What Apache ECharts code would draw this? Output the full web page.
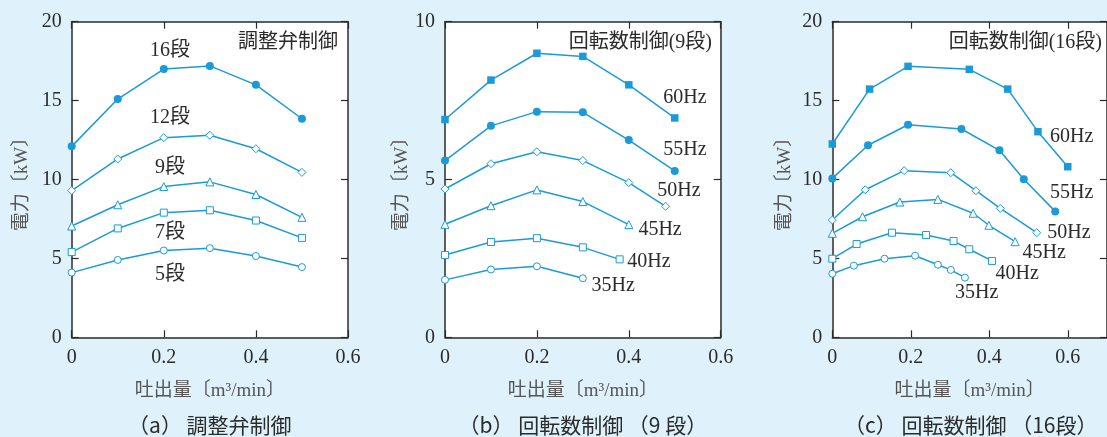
<!DOCTYPE html>
<html>
<head>
<meta charset="utf-8">
<script src="https://cdn.jsdelivr.net/npm/echarts@6/dist/echarts.min.js"></script>
<style>
  html, body { margin: 0; padding: 0; background: #dff2fb; }
  #chart { width: 1107px; height: 437px; }
</style>
</head>
<body>
<div id="chart"></div>
<script>
// ---- (a) 調整弁制御 ----
const aX   = [0, 0.1, 0.2, 0.3, 0.4, 0.5];
const a16  = [12.1, 15.1, 17.0, 17.2, 16.0, 13.85];
const a12  = [9.3, 11.3, 12.65, 12.8, 11.95, 10.45];
const a9   = [7.05, 8.4, 9.55, 9.85, 9.05, 7.6];
const a7   = [5.4, 6.9, 7.9, 8.05, 7.4, 6.3];
const a5   = [4.1, 4.9, 5.5, 5.65, 5.15, 4.45];

// ---- (b) 回転数制御（9段） ----
const b60X = [0, 0.1, 0.2, 0.3, 0.4, 0.5];
const b60  = [6.9, 8.15, 9.0, 8.9, 8.0, 6.95];
const b55X = [0, 0.1, 0.2, 0.3, 0.4, 0.5];
const b55  = [5.6, 6.7, 7.15, 7.13, 6.25, 5.27];
const b50X = [0, 0.1, 0.2, 0.3, 0.4, 0.48];
const b50  = [4.7, 5.5, 5.88, 5.6, 4.9, 4.15];
const b45X = [0, 0.1, 0.2, 0.3, 0.4];
const b45  = [3.58, 4.17, 4.67, 4.3, 3.57];
const b40X = [0, 0.1, 0.2, 0.3, 0.38];
const b40  = [2.61, 3.02, 3.14, 2.85, 2.47];
const b35X = [0, 0.1, 0.2, 0.3];
const b35  = [1.82, 2.15, 2.25, 1.87];

// ---- (c) 回転数制御（16段） ----
const c60X = [0, 0.095, 0.193, 0.349, 0.447, 0.524, 0.6];
const c60  = [12.25, 15.73, 17.17, 16.98, 15.73, 13.03, 10.81];
const c55X = [0, 0.091, 0.193, 0.329, 0.426, 0.488, 0.568];
const c55  = [10.07, 12.17, 13.47, 13.2, 11.85, 10.01, 7.98];
const c50X = [0, 0.084, 0.183, 0.302, 0.366, 0.428, 0.521];
const c50  = [7.43, 9.35, 10.56, 10.43, 9.29, 8.17, 6.63];
const c45X = [0, 0.077, 0.172, 0.269, 0.359, 0.399, 0.466];
const c45  = [6.59, 7.64, 8.57, 8.74, 7.86, 7.10, 6.06];
const c40X = [0, 0.062, 0.152, 0.239, 0.309, 0.349, 0.407];
const c40  = [4.98, 5.91, 6.63, 6.48, 6.10, 5.58, 4.84];
const c35X = [0, 0.055, 0.133, 0.211, 0.269, 0.302, 0.338];
const c35  = [4.03, 4.54, 4.98, 5.17, 4.60, 4.27, 3.78];

// Text
const panelTitles = ['調整弁制御', '回転数制御(9段)', '回転数制御(16段)'];
const captions = ['（a） 調整弁制御', '（b） 回転数制御 （9 段）', '（c） 回転数制御 （16段）'];
const xName = '吐出量〔m³/min〕';
const yName = '電力〔kW〕';

// Styling
const BLUE = '#1a9bd7';
const INK = '#2b2b2b';
const SERIF = "'Liberation Serif', 'Noto Sans CJK JP', serif";
const SANS = "'Noto Sans CJK JP', 'Noto Sans', sans-serif";

const grids = [
  { left: 71.7, top: 21.7, width: 276.3, height: 315.6, xMax: 0.6, yMax: 20, nameGap: 40 },
  { left: 445,  top: 21.7, width: 275.7, height: 315.6, xMax: 0.6, yMax: 10, nameGap: 33 },
  { left: 832.3, top: 21.7, width: 277, height: 315.6, xMax: 0.7, yMax: 20, nameGap: 38 }
];

const tickStyle = { show: true, inside: true, length: 7, lineStyle: { color: INK, width: 1.2 } };
const lineStyleAxis = { show: true, onZero: false, lineStyle: { color: INK, width: 1.5 } };

const xAxes = [], yAxes = [];
grids.forEach((g, i) => {
  xAxes.push({
    type: 'value', gridIndex: i, min: 0, max: g.xMax, interval: 0.2, position: 'bottom',
    axisLine: lineStyleAxis, axisTick: tickStyle, splitLine: { show: false },
    axisLabel: { margin: 10, color: INK, fontSize: 20, fontFamily: SERIF, showMaxLabel: g.xMax === 0.6 },
    name: xName, nameLocation: 'middle', nameGap: 44,
    nameTextStyle: { color: '#555', fontSize: 19, fontFamily: SERIF }
  });
  xAxes.push({
    type: 'value', gridIndex: i, min: 0, max: g.xMax, interval: 0.2, position: 'top',
    axisLine: lineStyleAxis, axisTick: tickStyle, splitLine: { show: false },
    axisLabel: { show: false }
  });
  yAxes.push({
    type: 'value', gridIndex: i, min: 0, max: g.yMax, interval: 5, position: 'left',
    axisLine: lineStyleAxis, axisTick: tickStyle, splitLine: { show: false },
    axisLabel: { margin: 10, color: INK, fontSize: 20, fontFamily: SERIF },
    name: yName, nameLocation: 'middle', nameGap: g.nameGap,
    nameTextStyle: { color: '#555', fontSize: 19, fontFamily: SERIF }
  });
  yAxes.push({
    type: 'value', gridIndex: i, min: 0, max: g.yMax, interval: 5, position: 'right',
    axisLine: lineStyleAxis, axisTick: tickStyle, splitLine: { show: false },
    axisLabel: { show: false }
  });
});

function pairs(xs, ys) { return xs.map((x, k) => [x, ys[k]]); }

// One curve: panel index, x/y arrays, marker shape, whether the marker is solid,
// and its annotation (text + data-space anchor)
function curve(panel, xs, ys, symbol, solid, size, label, at) {
  return {
    type: 'line',
    xAxisIndex: panel * 2, yAxisIndex: panel * 2,
    data: pairs(xs, ys),
    symbol: symbol, symbolSize: size,
    showAllSymbol: true,
    lineStyle: { color: BLUE, width: 1.5 },
    itemStyle: solid
      ? { color: BLUE, borderWidth: 0 }
      : { color: '#ffffff', borderColor: BLUE, borderWidth: 1 },
    emphasis: { disabled: true },
    animation: false,
    z: 3,
    markPoint: {
      silent: true, symbol: 'circle', symbolSize: 0, animation: false,
      label: { show: true, position: 'inside', formatter: '{b}', color: INK, fontSize: 20, fontFamily: SERIF },
      data: [{ name: label, coord: at }]
    }
  };
}

const series = [
  curve(0, aX, a16, 'circle',   true,  8, '16段', [0.2135, 18.16]),
  curve(0, aX, a12, 'diamond',  false, 8, '12段', [0.2135, 13.9]),
  curve(0, aX, a9,  'triangle', false, 8, '9段',  [0.2135, 10.73]),
  curve(0, aX, a7,  'rect',     false, 7, '7段',  [0.2135, 6.61]),
  curve(0, aX, a5,  'circle',   false, 7, '5段',  [0.2135, 3.95]),

  curve(1, b60X, b60, 'rect',     true,  7.5, '60Hz', [0.522, 7.58]),
  curve(1, b55X, b55, 'circle',   true,  8,   '55Hz', [0.522, 5.93]),
  curve(1, b50X, b50, 'diamond',  false, 8,   '50Hz', [0.509, 4.64]),
  curve(1, b45X, b45, 'triangle', false, 8,   '45Hz', [0.468, 3.40]),
  curve(1, b40X, b40, 'rect',     false, 7,   '40Hz', [0.444, 2.39]),
  curve(1, b35X, b35, 'circle',   false, 7,   '35Hz', [0.366, 1.63]),

  curve(2, c60X, c60, 'rect',     true,  7.5, '60Hz', [0.610, 12.69]),
  curve(2, c55X, c55, 'circle',   true,  8,   '55Hz', [0.610, 9.14]),
  curve(2, c50X, c50, 'diamond',  false, 8,   '50Hz', [0.603, 6.61]),
  curve(2, c45X, c45, 'triangle', false, 8,   '45Hz', [0.540, 5.34]),
  curve(2, c40X, c40, 'rect',     false, 7,   '40Hz', [0.471, 4.01]),
  curve(2, c35X, c35, 'circle',   false, 7,   '35Hz', [0.368, 2.81])
];

// Panel titles (top-right inside each plot) and captions beneath
const titleRight = [338, 712, 1102];
const graphic = [];
grids.forEach((g, i) => {
  graphic.push({
    type: 'text', x: titleRight[i], y: 43, z: 10, silent: true,
    style: { text: panelTitles[i], fill: INK, font: '20px ' + SERIF, align: 'right', verticalAlign: 'middle' }
  });
  graphic.push({
    type: 'text', x: g.left + g.width / 2, y: 425, z: 10, silent: true,
    style: { text: captions[i], fill: INK, font: '21px ' + SANS, align: 'center', verticalAlign: 'middle' }
  });
});

const chart = echarts.init(document.getElementById('chart'), null, { renderer: 'canvas' });
chart.setOption({
  backgroundColor: '#dff2fb',
  animation: false,
  grid: grids.map(g => ({
    left: g.left, top: g.top, width: g.width, height: g.height,
    show: true, backgroundColor: '#ffffff', borderWidth: 0, containLabel: false
  })),
  xAxis: xAxes,
  yAxis: yAxes,
  series: series,
  graphic: graphic
});
</script>
</body>
</html>
